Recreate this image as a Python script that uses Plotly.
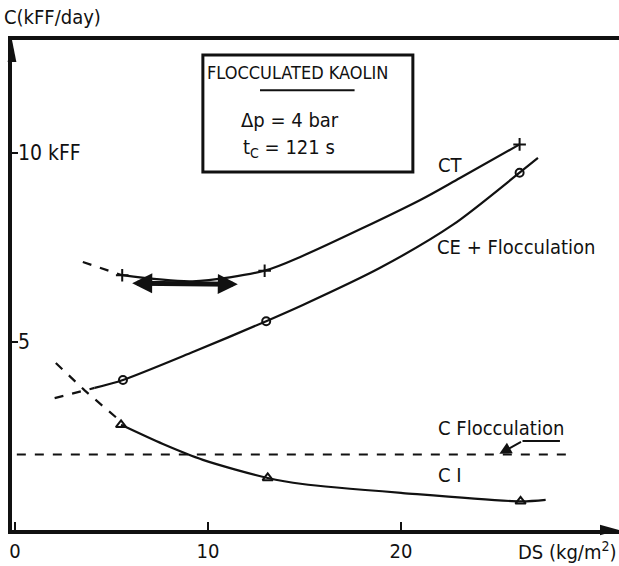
import plotly.graph_objects as go

# ---- data ----
ct_dash_x = [3.52, 5.56]
ct_dash_y = [7.11, 6.76]
ct_x = [5.56, 9.2, 12.94, 14.9, 20.98, 23.06, 26.15]
ct_y = [6.76, 6.6, 6.88, 7.27, 8.75, 9.34, 10.23]
ct_pts_x = [5.56, 12.94, 26.15]
ct_pts_y = [6.76, 6.88, 10.23]

ce_dash_x = [2.06, 4.13]
ce_dash_y = [3.5, 3.77]
ce_x = [4.13, 5.6, 9.22, 13.02, 14.92, 18.9, 22.7, 26.15, 27.1]
ce_y = [3.77, 3.98, 4.72, 5.54, 5.97, 6.95, 8.1, 9.48, 9.87]
ce_pts_x = [5.6, 13.02, 26.15]
ce_pts_y = [3.98, 5.54, 9.48]

ci_dash_x = [2.12, 3.6, 5.44]
ci_dash_y = [4.43, 3.71, 2.9]
ci_x = [5.5, 7.67, 9.74, 13.1, 14.9, 20.1, 26.2, 27.5]
ci_y = [2.79, 2.28, 1.86, 1.38, 1.22, 0.98, 0.76, 0.8]
ci_pts_x = [5.5, 13.1, 26.2]
ci_pts_y = [2.79, 1.38, 0.76]

cfloc_x = [0.1, 28.65]
cfloc_y = [2.0, 2.0]

x_tickvals = [0, 10, 20]
x_ticktext = ["0", "10", "20"]
y_tickvals = [5, 10]
y_ticktext = ["5", "10 kFF"]

FONT = "DejaVu Sans Condensed, Liberation Sans Narrow, Roboto Condensed, Arial Narrow, sans-serif"
BLACK = "#111111"
XRANGE = [-0.15, 31.3]
YRANGE = [0, 13.0]

fig = go.Figure()

def line(x, y, dash="solid", shape="spline", width=2.2):
    fig.add_trace(go.Scatter(x=x, y=y, mode="lines",
                             line=dict(color=BLACK, width=width, dash=dash, shape=shape, smoothing=0.8),
                             hoverinfo="skip"))

line(ct_dash_x, ct_dash_y, dash="dash", shape="linear")
line(ct_x, ct_y)
line(ce_dash_x, ce_dash_y, dash="dash", shape="linear")
line(ce_x, ce_y)
line(ci_dash_x, ci_dash_y, dash="dash", shape="linear")
line(ci_x, ci_y)
line(cfloc_x, cfloc_y, dash="dash", shape="linear", width=2)

fig.add_trace(go.Scatter(x=ct_pts_x, y=ct_pts_y, mode="markers",
                         marker=dict(symbol="cross-thin", size=9, line=dict(color=BLACK, width=2))))
fig.add_trace(go.Scatter(x=ce_pts_x, y=ce_pts_y, mode="markers",
                         marker=dict(symbol="circle-open", size=8, color=BLACK, line=dict(width=2))))
fig.add_trace(go.Scatter(x=ci_pts_x, y=ci_pts_y, mode="markers",
                         marker=dict(symbol="triangle-up-open", size=9, color=BLACK, line=dict(width=2))))
# invisible trace that activates the overlay y axis carrying the tick labels
fig.add_trace(go.Scatter(x=[x_tickvals[0]], y=[y_tickvals[0]], yaxis="y2", mode="markers",
                         marker=dict(opacity=0), hoverinfo="skip"))

annotations = []
def label(text, x, y, size=20, xanchor="left", **kw):
    annotations.append(dict(text=text, x=x, y=y, xanchor=xanchor, yanchor="middle",
                            showarrow=False, font=dict(family=FONT, size=size, color=BLACK), **kw))

label("CT", 21.8, 9.68)
label("CE + Flocculation", 21.76, 7.5)
label("C Flocculation", 21.8, 2.71)
label("C I", 21.8, 1.46)
label("FLOCCULATED KAOLIN", 9.85, 12.15, size=18)
label("Δp = 4 bar", 11.6, 10.88)
label("t<sub>C</sub> = 121 s", 11.7, 10.14)
label("C(kFF/day)", -0.016, 1.047, size=20, xref="paper", yref="paper")
label("DS (kg/m<sup>2</sup>)", 1.0, -0.043, size=20, xanchor="right", xref="paper", yref="paper")

# double-headed arrow
annotations.append(dict(x=11.55, y=6.52, ax=6.0, ay=6.55, xref="x", yref="y", axref="x", ayref="y",
                        showarrow=True, arrowhead=2, arrowside="end+start", arrowsize=0.8,
                        arrowwidth=5, arrowcolor=BLACK, text=""))
# leader arrow to C Flocculation line
annotations.append(dict(x=25.1, y=2.02, ax=26.3, ay=2.36, xref="x", yref="y", axref="x", ayref="y",
                        showarrow=True, arrowhead=2, arrowsize=1.2, arrowwidth=2,
                        arrowcolor=BLACK, text=""))

shapes = [
    dict(type="line", xref="x", yref="y", x0=26.3, y0=2.36, x1=28.24, y1=2.36,
         line=dict(color=BLACK, width=2)),
    dict(type="rect", xref="x", yref="y", x0=9.74, y0=9.5, x1=20.62, y1=12.6,
         line=dict(color=BLACK, width=3)),
    dict(type="line", xref="x", yref="y", x0=12.7, y0=11.67, x1=17.6, y1=11.67,
         line=dict(color=BLACK, width=2)),
    # axis arrowheads
    dict(type="path", xref="paper", yref="paper",
         path="M 1.0 0 L 0.9687 0.0105 L 0.9687 -0.0105 Z", fillcolor=BLACK, line=dict(width=0)),
    dict(type="path", xref="paper", yref="paper",
         path="M 0 1.0 L 0.0072 0.955 L -0.0072 0.955 Z", fillcolor=BLACK, line=dict(width=0)),
]

fig.update_layout(
    width=619, height=566,
    margin=dict(l=12, r=0, t=40, b=36),
    paper_bgcolor="white", plot_bgcolor="white",
    showlegend=False,
    annotations=annotations, shapes=shapes,
    xaxis=dict(range=XRANGE, showgrid=False, zeroline=False,
               showline=True, linewidth=3.5, linecolor=BLACK, mirror=True,
               ticks="inside", ticklen=8, tickwidth=2, tickcolor=BLACK,
               tickvals=x_tickvals, ticktext=x_ticktext,
               tickfont=dict(family=FONT, size=20, color=BLACK)),
    yaxis=dict(range=YRANGE, showgrid=False, zeroline=False,
               showline=True, linewidth=3.5, linecolor=BLACK,
               ticks="inside", ticklen=6, tickwidth=2, tickcolor=BLACK,
               tickvals=y_tickvals, showticklabels=False),
    yaxis2=dict(range=YRANGE, overlaying="y", side="right", anchor="free", position=0,
                showgrid=False, zeroline=False, showline=False,
                ticks="", ticklabelstandoff=5,
                tickvals=y_tickvals, ticktext=y_ticktext,
                tickfont=dict(family=FONT, size=21, color=BLACK)),
)

fig.write_html("out.html", config={"displayModeBar": False},
               post_script="document.body.style.margin='0';document.body.style.overflow='hidden';")
